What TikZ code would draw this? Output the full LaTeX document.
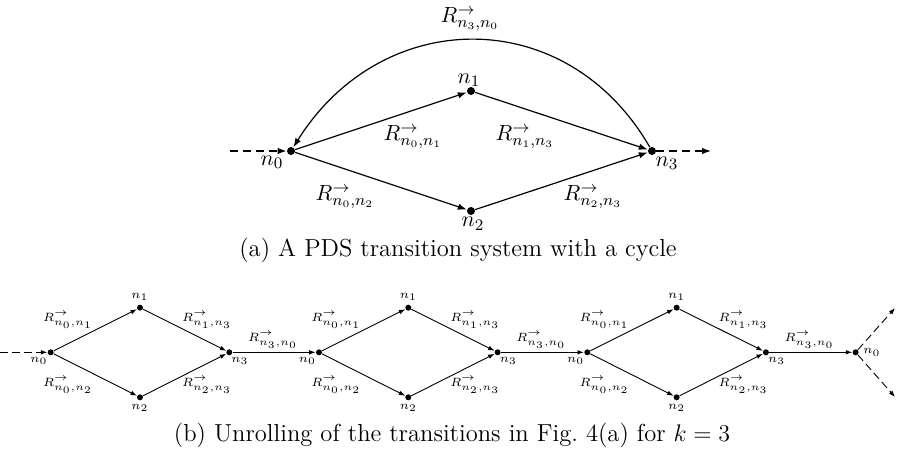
\documentclass[tikz,border=0pt]{standalone}
\usetikzlibrary{arrows.meta}
\newcommand{\Rlab}[2]{$R^{\rightarrow}_{n_{#1},n_{#2}}$}
\begin{document}
\begin{tikzpicture}[x=0.5pt,y=-0.5pt,
  tdot/.style={circle,fill=black,inner sep=0pt,minimum size=4pt},
  bdot/.style={circle,fill=black,inner sep=0pt,minimum size=3pt},
  topedge/.style={-{Latex[length=4.5pt,width=3.2pt]},line width=0.6pt},
  botedge/.style={-{Latex[length=3.2pt,width=2.3pt]},line width=0.45pt},
  tdash/.style={dash pattern=on 4pt off 2.5pt},
  bdash/.style={dash pattern=on 4pt off 2pt},
  toplab/.style={inner sep=0pt,font=\fontsize{10.8}{12}\selectfont},
  botlab/.style={inner sep=0pt,font=\fontsize{6.2}{7}\selectfont},
  capstyle/.style={inner sep=0pt,font=\fontsize{12.3}{14}\selectfont}]
\useasboundingbox (0,0) rectangle (904,450);
% ---------- (a) ----------
\node[tdot] (a0) at (291,151) {};
\node[tdot] (a1) at (471,91) {};
\node[tdot] (a2) at (471,211) {};
\node[tdot] (a3) at (652,151) {};
\coordinate (ain) at (230,151);
\coordinate (aout) at (711,151);
\draw[topedge,tdash] (ain) -- (a0);
\draw[topedge,tdash] (a3) -- (aout);
\draw[topedge] (a0) -- (a1);
\draw[topedge] (a0) -- (a2);
\draw[topedge] (a1) -- (a3);
\draw[topedge] (a2) -- (a3);
\draw[topedge] (a3) to[out=120,in=58,looseness=1.2] (a0);
\node[toplab] (la0) at (272,162) {$n_0$};
\node[toplab,anchor=south] (la1) at (469,87) {$n_1$};
\node[toplab,anchor=north] (la2) at (473,217) {$n_2$};
\node[toplab] (la3) at (667,163) {$n_3$};
\node[toplab,anchor=north] (ra30) at (470,7) {\Rlab{3}{0}};
\node[toplab] (ra01) at (413,137) {\Rlab{0}{1}};
\node[toplab] (ra13) at (525,137) {\Rlab{1}{3}};
\node[toplab] (ra02) at (345,197) {\Rlab{0}{2}};
\node[toplab] (ra23) at (593,197) {\Rlab{2}{3}};
\node[capstyle] (capa) at (458,250) {(a) A PDS transition system with a cycle};
% ---------- (b) ----------
\foreach \i in {0,1,2}{
  \begin{scope}[xshift=\i*268.3*0.5pt]
    \node[bdot] (s\i-0) at (50.7,352.3) {};
    \node[bdot] (s\i-1) at (140,307.7) {};
    \node[bdot] (s\i-2) at (140,397.3) {};
    \node[bdot] (s\i-3) at (229.3,352.3) {};
    \node[botlab] (l\i-0) at (39,361) {$n_0$};
    \node[botlab] (l\i-1) at (140,297) {$n_1$};
    \node[botlab] (l\i-2) at (140,408) {$n_2$};
    \node[botlab] (l\i-3) at (240,361) {$n_3$};
    \node[botlab] (r\i-01) at (68,320) {\Rlab{0}{1}};
    \node[botlab] (r\i-02) at (68,385) {\Rlab{0}{2}};
    \node[botlab] (r\i-13) at (207,320) {\Rlab{1}{3}};
    \node[botlab] (r\i-23) at (207,385) {\Rlab{2}{3}};
    \node[botlab] (r\i-30) at (273,340) {\Rlab{3}{0}};
  \end{scope}
}
\node[bdot] (s3-0) at (855.6,352.3) {};
\node[botlab] (l3-0) at (872,352.3) {$n_0$};
\coordinate (bin) at (0,352.3);
\coordinate (bup) at (895,308);
\coordinate (bdown) at (895,397);
\draw[botedge,bdash] (bin) -- (s0-0);
\foreach \i/\j in {0/1,1/2,2/3}{
  \draw[botedge] (s\i-0) -- (s\i-1);
  \draw[botedge] (s\i-0) -- (s\i-2);
  \draw[botedge] (s\i-1) -- (s\i-3);
  \draw[botedge] (s\i-2) -- (s\i-3);
  \draw[botedge] (s\i-3) -- (s\j-0);
}
\draw[botedge,bdash] (s3-0) -- (bup);
\draw[botedge,bdash] (s3-0) -- (bdown);
\node[capstyle] (capb) at (452,435) {(b) Unrolling of the transitions in Fig.~4(a) for $k=3$};
\end{tikzpicture}
\end{document}
